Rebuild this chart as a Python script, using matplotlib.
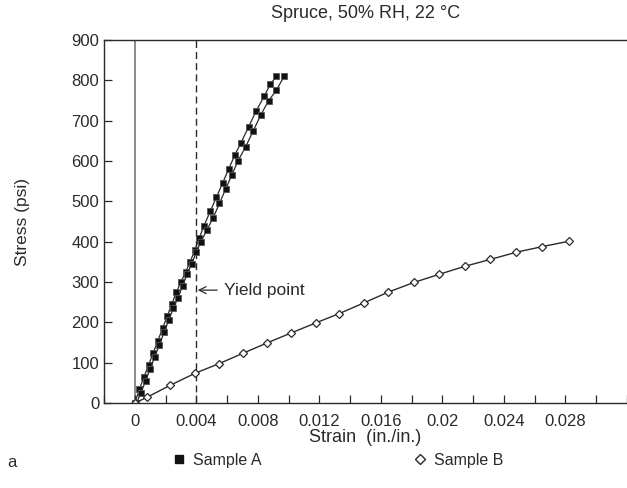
import numpy as np
import matplotlib.pyplot as plt
from matplotlib.lines import Line2D

plt.rcParams['font.family'] = ['Liberation Sans', 'DejaVu Sans']

# --- Sample A (two nearly coincident runs, filled squares) ---
a1_strain = [0, 0.0003, 0.0006, 0.0009, 0.0012, 0.0015, 0.0018, 0.0021, 0.0024,
             0.0027, 0.0030, 0.0033, 0.0036, 0.0039, 0.0042, 0.0045, 0.0049,
             0.0053, 0.0057, 0.0061, 0.0065, 0.0069, 0.0074, 0.0079, 0.0084,
             0.0088, 0.0092]
a1_stress = [0, 35, 65, 95, 125, 155, 185, 215, 245, 275, 300, 325, 350, 380,
             410, 440, 475, 510, 545, 580, 615, 645, 685, 725, 760, 790, 810]
a2_strain = [0.0001, 0.0004, 0.0007, 0.0010, 0.0013, 0.0016, 0.0019, 0.0022,
             0.0025, 0.0028, 0.0031, 0.0034, 0.0037, 0.0040, 0.0043, 0.0047,
             0.0051, 0.0055, 0.0059, 0.0063, 0.0067, 0.0072, 0.0077, 0.0082,
             0.0087, 0.0092, 0.0097]
a2_stress = [0, 25, 55, 85, 115, 145, 175, 205, 235, 260, 290, 320, 345, 375,
             400, 430, 460, 495, 530, 565, 600, 635, 675, 715, 750, 775, 810]

# --- Sample B (open diamonds) ---
b_strain = [0, 0.00077, 0.00229, 0.00392, 0.00549, 0.0070, 0.00859, 0.01017,
            0.01178, 0.0133, 0.01493, 0.01647, 0.01814, 0.01977, 0.02145,
            0.0231, 0.02481, 0.0265, 0.0282]
b_stress = [0, 14, 44, 74, 98, 123, 149, 174, 199, 222, 249, 275, 299, 319,
            339, 356, 374, 388, 401]

yield_strain = 0.004
xtick_vals = [0, 0.004, 0.008, 0.012, 0.016, 0.02, 0.024, 0.028]
xtick_labels = ['0', '0.004', '0.008', '0.012', '0.016', '0.02', '0.024', '0.028']

ink = '#2a2a2a'

fig = plt.figure(figsize=(6.27, 4.88), dpi=100)
ax = fig.add_axes([0.166, 0.174, 0.834, 0.744])

# reference lines
ax.axvline(0, color='#777777', linewidth=1.2, zorder=1)
ax.axvline(yield_strain, color=ink, linewidth=1.0, linestyle=(0, (5, 3)), zorder=1)

# data
ax.plot(a1_strain, a1_stress, color=ink, linewidth=0.9, marker='s', markersize=5,
        markerfacecolor='#111111', markeredgecolor='#555555', markeredgewidth=0.6)
ax.plot(a2_strain, a2_stress, color=ink, linewidth=0.9, marker='s', markersize=5,
        markerfacecolor='#111111', markeredgecolor='#555555', markeredgewidth=0.6)
ax.plot(b_strain, b_stress, color=ink, linewidth=1.0, marker='D', markersize=4,
        markerfacecolor='white', markeredgecolor=ink, markeredgewidth=0.9)

# yield point label
ax.annotate('Yield point', xy=(yield_strain, 280), xytext=(0.0058, 280),
            fontsize=12.5, color=ink, va='center', ha='left',
            arrowprops=dict(arrowstyle='->', color=ink, linewidth=0.9,
                            shrinkA=3, shrinkB=1))

ax.set_xlim(-0.002, 0.032)
ax.set_ylim(0, 900)
ax.set_xticks(xtick_vals)
ax.set_xticklabels(xtick_labels)
ax.set_xticks(np.arange(-0.002, 0.0321, 0.002), minor=True)
ax.set_yticks(np.arange(0, 901, 100))
ax.tick_params(axis='both', direction='in', length=6, width=0.9, colors=ink,
               labelsize=12, labelcolor=ink)
ax.tick_params(axis='x', which='minor', direction='in', length=6, width=0.9, colors=ink)
ax.tick_params(axis='x', pad=8)
for side in ['left', 'bottom', 'top']:
    ax.spines[side].set_color(ink)
    ax.spines[side].set_linewidth(1.0)
ax.spines['right'].set_visible(False)

ax.set_xlabel('Strain  (in./in.)', fontsize=13, color=ink, labelpad=0)
ax.set_ylabel('Stress (psi)', fontsize=12.5, color=ink, labelpad=30)
ax.set_title('Spruce, 50% RH, 22 °C', fontsize=13, color=ink, pad=16)

# legend below the plot
handles = [
    Line2D([], [], linestyle='none', marker='s', markersize=6,
           markerfacecolor='#111111', markeredgecolor='#111111'),
    Line2D([], [], linestyle='none', marker='D', markersize=5,
           markerfacecolor='white', markeredgecolor=ink, markeredgewidth=1.0),
]
fig.legend(handles, ['Sample A', 'Sample B'], ncol=2, frameon=False,
           loc='center', bbox_to_anchor=(0.539, 0.057), fontsize=11.5,
           handlelength=0.8, handletextpad=0.5, columnspacing=9.5,
           labelcolor=ink)
fig.text(0.012, 0.053, 'a', fontsize=12, color=ink, va='center')

fig.savefig('out.png', dpi=100)
